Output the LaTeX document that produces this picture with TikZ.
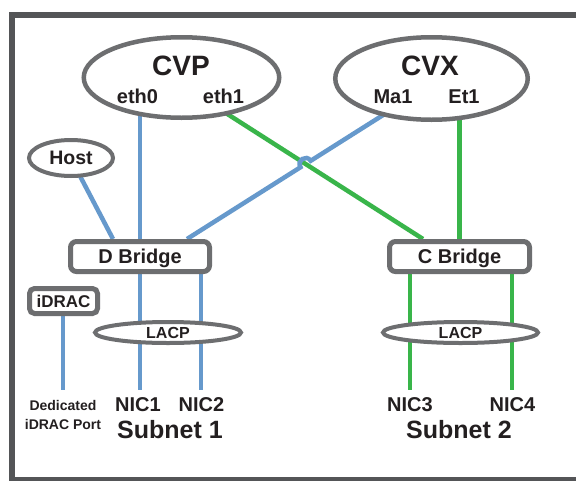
\documentclass[tikz,border=0pt]{standalone}
\usepackage{fontspec}
\setmainfont{Liberation Sans}
\usetikzlibrary{backgrounds,calc,shapes.geometric}
\definecolor{lnblue}{RGB}{102,153,204}
\definecolor{lngreen}{RGB}{57,181,74}
\definecolor{outl}{RGB}{109,110,112}
\definecolor{framec}{RGB}{84,85,87}
\definecolor{txt}{RGB}{35,31,32}
\begin{document}
\begin{tikzpicture}[x=1pt,y=-1pt,
  fs/.style={font=\bfseries\fontsize{#1}{#1}\selectfont},
  ell/.style={ellipse, draw=outl, fill=white, line width=4.5pt, inner sep=0pt, text=txt, text depth=0pt},
  boxnode/.style={rectangle, rounded corners=6pt, draw=outl, fill=white, line width=5pt, inner sep=0pt, text=txt, text depth=0pt},
  lbl/.style={anchor=base, inner sep=0pt, text=txt},
  bl/.style={draw=lnblue, line width=4.5pt},
  gl/.style={draw=lngreen, line width=4.5pt}
]
\useasboundingbox (0,0) rectangle (576,480);

% main ellipses
\node[ell, minimum width=195.5pt, minimum height=80.5pt] (cvp) at (181.5,77.5) {};
\node[ell, minimum width=192.5pt, minimum height=82.5pt] (cvx) at (431.5,78.5) {};
\node[lbl, fs=28] (cvpt) at (181,75) {CVP};
\node[lbl, fs=20] (eth0) at (137.5,103) {eth0};
\node[lbl, fs=20] (eth1) at (223.5,103) {eth1};
\node[lbl, fs=28] (cvxt) at (430,75) {CVX};
\node[lbl, fs=20] (ma1) at (393,103) {Ma1};
\node[lbl, fs=20] (et1) at (464,103) {Et1};

% host
\node[ell, line width=4pt, minimum width=84pt, minimum height=36pt, fs=19.5] (host) at (71,158) {Host};

% bridges
\node[boxnode, minimum width=139pt, minimum height=30pt, fs=20] (dbr) at (140,256.5) {D Bridge};
\node[boxnode, minimum width=140pt, minimum height=30pt, fs=20] (cbr) at (459.5,256.5) {C Bridge};

% iDRAC
\node[boxnode, rounded corners=5pt, minimum width=68pt, minimum height=25pt, fs=17] (idrac) at (63.5,301) {iDRAC};

% LACP
\node[ell, line width=4pt, minimum width=146pt, minimum height=21pt, fs=16] (lacp1) at (168,332.5) {LACP};
\node[ell, line width=4pt, minimum width=155pt, minimum height=21pt, fs=16] (lacp2) at (460.5,332.5) {LACP};

% bottom labels
\node[lbl, fs=14] (ded) at (63,410) {Dedicated};
\node[lbl, fs=14] (dedp) at (63,429) {iDRAC Port};
\node[lbl, fs=20] (nic1) at (138,411) {NIC1};
\node[lbl, fs=20] (nic2) at (201.5,411) {NIC2};
\node[lbl, fs=25] (sub1) at (170,438) {Subnet 1};
\node[lbl, fs=20] (nic3) at (410,411) {NIC3};
\node[lbl, fs=20] (nic4) at (512.5,411) {NIC4};
\node[lbl, fs=25] (sub2) at (459,438) {Subnet 2};

% port coordinates
\coordinate (p-eth0) at (140,110);
\coordinate (p-et1) at (459.5,110);
\coordinate (p-ma1) at (395,107.5);
\coordinate (p-eth1) at (220,109.3);
\coordinate (d-ma1) at (187,239);
\coordinate (c-eth1) at (423,239);
\coordinate (h-top) at (80,176);
\coordinate (d-host) at (113,239);
\coordinate (e-nic1) at (140,390);
\coordinate (e-nic2) at (201,390);
\coordinate (e-nic3) at (410,390);
\coordinate (e-nic4) at (512,390);
\coordinate (e-idrac) at (63,390);
\coordinate (X) at (intersection of p-ma1--d-ma1 and p-eth1--c-eth1);
\coordinate (Ha) at ($(X)!6pt!(d-ma1)$);
\coordinate (Hb) at ($(X)!6pt!(p-ma1)$);
\coordinate (Ca) at ($(Ha)!8pt!90:(Hb)$);
\coordinate (Cb) at ($(Hb)!8pt!-90:(Ha)$);

\begin{scope}[on background layer]
  \fill[white] (0,0) rectangle (576,480);
  \draw[bl] (p-eth0) -- (p-eth0 |- dbr.center);
  \draw[bl] (h-top) -- (d-host);
  \draw[gl] (p-eth1) -- (c-eth1);
  \draw[bl] (d-ma1) -- (Ha) .. controls (Ca) and (Cb) .. (Hb) -- (p-ma1);
  \draw[gl] (p-et1) -- (p-et1 |- cbr.center);
  \draw[bl] (e-nic1 |- dbr.center) -- (e-nic1);
  \draw[bl] (e-nic2 |- dbr.center) -- (e-nic2);
  \draw[gl] (e-nic3 |- cbr.center) -- (e-nic3);
  \draw[gl] (e-nic4 |- cbr.center) -- (e-nic4);
  \draw[bl] (e-idrac |- idrac.center) -- (e-idrac);
\end{scope}

% frame
\begin{scope}
  \clip (0,0) rectangle (576,480);
  \draw[framec, line width=6pt] (600,14.5) -- (11.5,14.5) -- (11.5,480) -- (600,480);
\end{scope}
\end{tikzpicture}
\end{document}
